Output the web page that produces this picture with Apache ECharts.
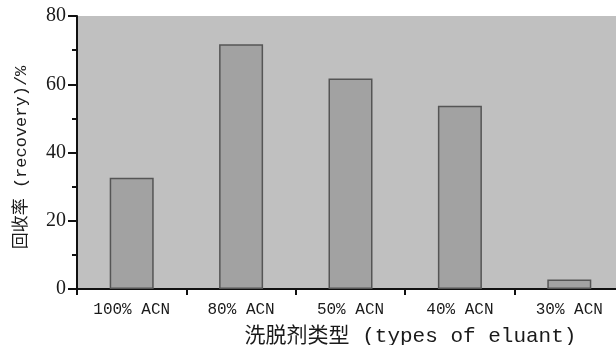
<!DOCTYPE html>
<html>
<head>
<meta charset="utf-8">
<script src="https://cdn.jsdelivr.net/npm/echarts@6/dist/echarts.min.js"></script>
<style>html,body{margin:0;padding:0;background:#fff;}#c{width:616px;height:345px;}</style>
</head>
<body>
<div id="c"></div>
<script>
const categories = ['100% ACN', '80% ACN', '50% ACN', '40% ACN', '30% ACN'];
const recovery = [32.6, 71.7, 61.7, 53.7, 2.8];
const yTicks = [0, 20, 40, 60, 80];
const xName = '洗脱剂类型 (types of eluant)';
const yName = '回收率 (recovery)/%';

const chart = echarts.init(document.getElementById('c'), null, {renderer: 'canvas'});
chart.setOption({
  animation: false,
  grid: {left: 77, top: 16, width: 547, height: 273, show: true, backgroundColor: '#c0c0c0', borderWidth: 0, containLabel: false, outerBoundsMode: 'none'},
  xAxis: {
    type: 'category',
    data: categories,
    name: xName,
    nameLocation: 'middle',
    nameGap: 37,
    nameTextStyle: {fontFamily: 'Liberation Mono, Noto Sans CJK SC', fontSize: 21, color: '#1a1a1a', padding: [0, 0, 0, 120]},
    axisLine: {lineStyle: {color: '#111', width: 2}},
    axisTick: {show: true, length: 6, lineStyle: {color: '#111', width: 2}},
    axisLabel: {fontFamily: 'Liberation Mono, Noto Sans CJK SC', fontSize: 16, color: '#1a1a1a', margin: 13}
  },
  yAxis: {
    type: 'value',
    min: yTicks[0],
    max: yTicks[yTicks.length - 1],
    interval: 20,
    name: yName,
    nameLocation: 'middle',
    nameGap: 47,
    nameTextStyle: {fontFamily: 'Liberation Mono, Noto Sans CJK SC', fontSize: 17, color: '#1a1a1a', padding: [0, 10, 0, 0]},
    axisLine: {show: true, lineStyle: {color: '#111', width: 2}},
    axisTick: {show: true, length: 9, lineStyle: {color: '#111', width: 2}},
    minorTick: {show: true, splitNumber: 2, length: 5, lineStyle: {color: '#111', width: 2}},
    splitLine: {show: false},
    axisLabel: {fontFamily: 'Liberation Serif', fontSize: 20, color: '#1a1a1a', margin: 11}
  },
  series: [{
    type: 'bar',
    data: recovery,
    barWidth: 44,
    itemStyle: {color: '#a2a2a2', borderColor: '#555', borderWidth: 1.5}
  }]
});
</script>
</body>
</html>
